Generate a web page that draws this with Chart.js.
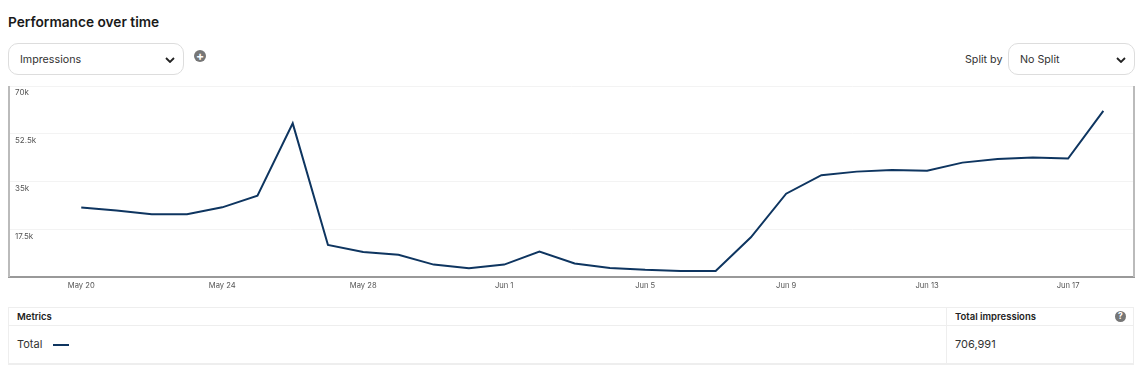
<!DOCTYPE html>
<html lang="en">
  <head>
    <meta charset="UTF-8" />
    <title>Performance over time</title>
    <style>
      * {
        margin: 0;
        padding: 0;
        box-sizing: border-box;
        font-family: Inter, sans-serif;
      }

      body {
        width: 1143px;
        height: 370px;
        background: #fff;
        position: relative;
        overflow: hidden;
        color: #333;
      }

      h1 {
        position: absolute;
        left: 8px;
        top: 14px;
        font-size: 13.7px;
        line-height: 17px;
        font-weight: 600;
        color: #1a1a1a;
      }

      .picker {
        position: absolute;
        top: 43px;
        height: 32px;
        border: 1px solid #ddd;
        border-radius: 10px;
        font-size: 10.7px;
        line-height: 31px;
        padding-left: 11px;
        background: #fff;
      }

      .picker svg {
        position: absolute;
        right: 8px;
        top: 13px;
      }

      .plus {
        position: absolute;
        left: 194px;
        top: 50px;
        width: 12px;
        height: 12px;
        border-radius: 50%;
        background: #767676;
        color: #fff;
        font-size: 12px;
        line-height: 12px;
        font-weight: 700;
        text-align: center;
      }

      .splitLabel {
        position: absolute;
        left: 965px;
        top: 43px;
        font-size: 10.7px;
        line-height: 33px;
      }

      .chartBox {
        position: absolute;
        left: 0;
        top: 80px;
        width: 1143px;
        height: 215px;
      }

      table {
        position: absolute;
        left: 8px;
        top: 307px;
        width: 1126px;
        border-collapse: collapse;
        table-layout: fixed;
        font-size: 11px;
      }

      td {
        border: 1px solid #eee;
        padding-left: 8px;
      }

      tr.head td {
        height: 18px;
        font-size: 9.5px;
        font-weight: 600;
        color: #222;
        position: relative;
      }

      tr.row td {
        height: 38px;
      }

      tr.row {
        border-bottom: 2px solid #eee;
      }

      .swatch {
        display: inline-block;
        width: 16px;
        height: 2px;
        background: #0e3560;
        margin-left: 8px;
        vertical-align: middle;
      }

      .help {
        position: absolute;
        right: 7px;
        top: 3px;
        width: 11px;
        height: 11px;
        border-radius: 50%;
        background: #767676;
        color: #fff;
        font-size: 8.5px;
        line-height: 11px;
        font-weight: 700;
        text-align: center;
      }
    </style>
  </head>
  <body>
    <h1>Performance over time</h1>
    <div class="picker" style="left: 8px; width: 176px">
      Impressions
      <svg width="10" height="6" viewBox="0 0 10 6"><path d="M1 1l4 4 4-4" fill="none" stroke="#222" stroke-width="1.8" /></svg>
    </div>
    <div class="plus">+</div>
    <div class="splitLabel">Split by</div>
    <div class="picker" style="left: 1008px; width: 127px">
      No Split
      <svg width="10" height="6" viewBox="0 0 10 6"><path d="M1 1l4 4 4-4" fill="none" stroke="#222" stroke-width="1.8" /></svg>
    </div>

    <div class="chartBox"><canvas id="myChart" width="1143" height="215"></canvas></div>

    <table>
      <colgroup><col style="width: 938px" /><col /></colgroup>
      <tr class="head">
        <td>Metrics</td>
        <td>Total impressions<span class="help">?</span></td>
      </tr>
      <tr class="row">
        <td>Total <span class="swatch"></span></td>
        <td>706,991</td>
      </tr>
    </table>

    <script src="https://cdn.jsdelivr.net/npm/chart.js"></script>

    <script>
      const dates = [
        "May 20", "May 21", "May 22", "May 23", "May 24", "May 25", "May 26", "May 27", "May 28", "May 29",
        "May 30", "May 31", "Jun 1", "Jun 2", "Jun 3", "Jun 4", "Jun 5", "Jun 6", "Jun 7", "Jun 8",
        "Jun 9", "Jun 10", "Jun 11", "Jun 12", "Jun 13", "Jun 14", "Jun 15", "Jun 16", "Jun 17", "Jun 18",
      ];
      const impressions = [
        25400, 24300, 22950, 22950, 25500, 29800, 56300, 11700, 9100, 8100,
        4500, 3200, 4500, 9300, 4900, 3300, 2600, 2200, 2200, 14500,
        30500, 37300, 38600, 39200, 38900, 41900, 43200, 43800, 43400, 60900,
      ];
      const yTicks = [0, 17500, 35000, 52500, 70000];
      const yTickLabels = ["", "17.5k", "35k", "52.5k", "70k"];

      const frame = {
        id: "frame",
        afterDraw(chart) {
          const { ctx, chartArea: { top, bottom, left, right } } = chart;
          ctx.save();
          ctx.strokeStyle = "#bbbbbb";
          ctx.lineWidth = 2;
          ctx.beginPath();
          ctx.moveTo(left, top);
          ctx.lineTo(left, bottom);
          ctx.moveTo(right, top);
          ctx.lineTo(right, bottom);
          ctx.stroke();
          ctx.restore();
        },
      };

      const myChart = new Chart(document.getElementById("myChart"), {
        type: "line",
        data: {
          datasets: [
            {
              data: impressions.map((v, i) => ({ x: i, y: v })),
              borderColor: "#0e3560",
              borderWidth: 2,
              pointRadius: 0,
              tension: 0,
            },
          ],
        },
        options: {
          responsive: false,
          animation: false,
          layout: { padding: { left: 9, right: 9, top: 6, bottom: 0 } },
          plugins: { legend: { display: false }, tooltip: { enabled: false } },
          scales: {
            x: {
              type: "linear",
              min: -2.05,
              max: 29.87,
              border: { display: true, color: "#999999", width: 2 },
              grid: { display: false, drawTicks: false },
              afterBuildTicks(axis) {
                axis.ticks = dates.map((d, i) => ({ value: i })).filter((t) => t.value % 4 === 0);
              },
              ticks: {
                autoSkip: false,
                maxRotation: 0,
                padding: 4.5,
                font: { family: "Inter", size: 7.6 },
                color: "#555555",
                callback: (v) => dates[v],
              },
            },
            y: {
              min: 0,
              max: 70000,
              border: { display: false },
              grid: { color: "#f3f3f3", lineWidth: 1, drawTicks: false },
              afterFit(axis) {
                axis.width = 0;
                axis.paddingTop = 0;
                axis.paddingBottom = 0;
              },
              afterBuildTicks(axis) {
                axis.ticks = yTicks.map((v) => ({ value: v }));
              },
              ticks: {
                mirror: true,
                padding: 6,
                labelOffset: 7,
                font: { family: "Inter", size: 8 },
                color: "#555555",
                callback: (v) => yTickLabels[yTicks.indexOf(v)],
              },
            },
          },
        },
        plugins: [frame],
      });
    </script>
  </body>
</html>
